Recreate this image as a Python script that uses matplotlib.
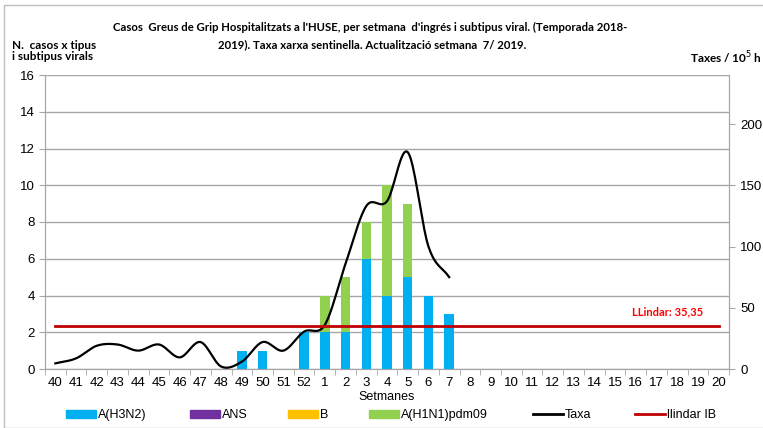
import numpy as np
import matplotlib
matplotlib.use("Agg")
import matplotlib.pyplot as plt
from matplotlib.patches import Rectangle, Patch
from matplotlib.lines import Line2D

weeks = [str(w) for w in range(40, 53)] + [str(w) for w in range(1, 21)]
h3n2 = [0,0,0,0,0,0,0,0,0,1,1,0,2,2,2,6,4,5,4,3] + [0]*13
ans = [0]*33
b = [0]*33
h1n1 = [0,0,0,0,0,0,0,0,0,0,0,0,0,2,3,2,6,4,0,0] + [0]*13
taxa = [4.6, 8.7, 19, 20, 15, 20, 9.5, 22, 2, 6, 22, 15, 30.5, 36, 86, 133, 137, 177, 100, 75]
llindar = 35.35

plt.rcParams['font.family'] = ['Liberation Sans', 'DejaVu Sans']

fig = plt.figure(figsize=(7.63, 4.28), dpi=100)
ax = fig.add_axes([45/763, 1-369/428, (729-45)/763, (369-75)/428])
ax2 = ax.twinx()

x = np.arange(len(weeks))
w = 0.46
ax.bar(x, h3n2, w, color='#00B0F0', zorder=3)
ax.bar(x, ans, w, bottom=h3n2, color='#7030A0', zorder=3)
bot2 = np.array(h3n2) + np.array(ans)
ax.bar(x, b, w, bottom=bot2, color='#FFC000', zorder=3)
bot3 = bot2 + np.array(b)
ax.bar(x, h1n1, w, bottom=bot3, color='#92D050', zorder=3)

def catmull(px, py, n=20):
    px = np.asarray(px, float); py = np.asarray(py, float)
    P = np.column_stack([px, py])
    P = np.vstack([P[0] - (P[1]-P[0]), P, P[-1] + (P[-1]-P[-2])])
    out = []
    for i in range(1, len(P)-2):
        p0, p1, p2, p3 = P[i-1], P[i], P[i+1], P[i+2]
        t = np.linspace(0, 1, n, endpoint=False)[:, None]
        pt = 0.5*((2*p1) + (-p0+p2)*t + (2*p0-5*p1+4*p2-p3)*t**2 + (-p0+3*p1-3*p2+p3)*t**3)
        out.append(pt)
    out.append(P[-2][None, :])
    out = np.vstack(out)
    return out[:, 0], out[:, 1]

tx, ty = catmull(x[:len(taxa)], taxa)
ax2.plot(tx, ty, color='black', lw=1.6, zorder=4)
ax2.plot([x[0], x[-1]], [llindar, llindar], color='#C00000', lw=2, zorder=4)
ax2.text(x[-1]-0.75, 47, 'LLindar: 35,35', color='#FF0000', fontsize=8,
         fontweight='bold', ha='right', va='center', family=['Lato', 'DejaVu Sans'])

ax.set_xlim(-0.5, len(weeks)-0.5)
ax.set_ylim(0, 16)
ax.set_yticks(range(0, 17, 2))
ax2.set_ylim(0, 240)
ax2.set_yticks(range(0, 201, 50))
ax.yaxis.grid(True, color='#A6A6A6', lw=1, zorder=0)
ax.set_axisbelow(True)
ax.set_xticks(x)
ax.set_xticklabels(weeks)
ax.tick_params(axis='x', length=0, labelsize=9.5, pad=6)
ax.set_xticks(np.arange(-0.5, len(weeks), 1), minor=True)
ax.tick_params(axis='x', which='minor', length=4, color='#A6A6A6', direction='out')
ax.tick_params(axis='y', labelsize=9.5, length=4, color='#A6A6A6')
ax2.tick_params(axis='y', labelsize=9.5, length=4, color='#A6A6A6', pad=4)
ax.spines['top'].set_visible(False); ax2.spines['top'].set_visible(False)
for a in (ax, ax2):
    for s in ['left', 'right', 'bottom']:
        a.spines[s].set_color('#A6A6A6')
ax.set_xlabel('Setmanes', fontsize=9, labelpad=1)

bold = dict(fontweight='bold', family=['Lato', 'DejaVu Sans'])
fig.text(370/763, 1-27/428, "Casos  Greus de Grip Hospitalitzats a l'HUSE, per setmana  d'ingrés i subtipus viral. (Temporada 2018-",
         ha='center', va='center', fontsize=8.2, **bold)
fig.text(372/763, 1-45/428, "2019). Taxa xarxa sentinella. Actualització setmana  7/ 2019.",
         ha='center', va='center', fontsize=8.2, **bold)
fig.text(12/763, 1-51/428, "N.  casos x tipus\ni subtipus virals", ha='left', va='center',
         fontsize=8.5, linespacing=1.05, **bold)
fig.text(690/763, 1-58/428, "Taxes / 10$^5$ h", ha='left', va='center', fontsize=8.5, **bold)

handles = [Patch(color='#00B0F0'), Patch(color='#7030A0'), Patch(color='#FFC000'),
           Patch(color='#92D050'), Line2D([], [], color='black', lw=2), Line2D([], [], color='#C00000', lw=2)]
labels = ['A(H3N2)', 'ANS', 'B', 'A(H1N1)pdm09', 'Taxa', 'llindar IB']
leg_x = [66, 190, 288, 369, 533, 635]
for h, l, lx in zip(handles, labels, leg_x):
    fig.legend([h], [l], loc='center left', bbox_to_anchor=(lx/763, 1-415/428),
               frameon=False, fontsize=9, handlelength=2.4, handleheight=0.6,
               handletextpad=0.15, borderpad=0, borderaxespad=0)

fig.patches.append(Rectangle((4/763, 0), 760/763, 1-5/428, transform=fig.transFigure,
                             fill=False, edgecolor='#BFBFBF', lw=1))
fig.savefig('out.png', dpi=100)
